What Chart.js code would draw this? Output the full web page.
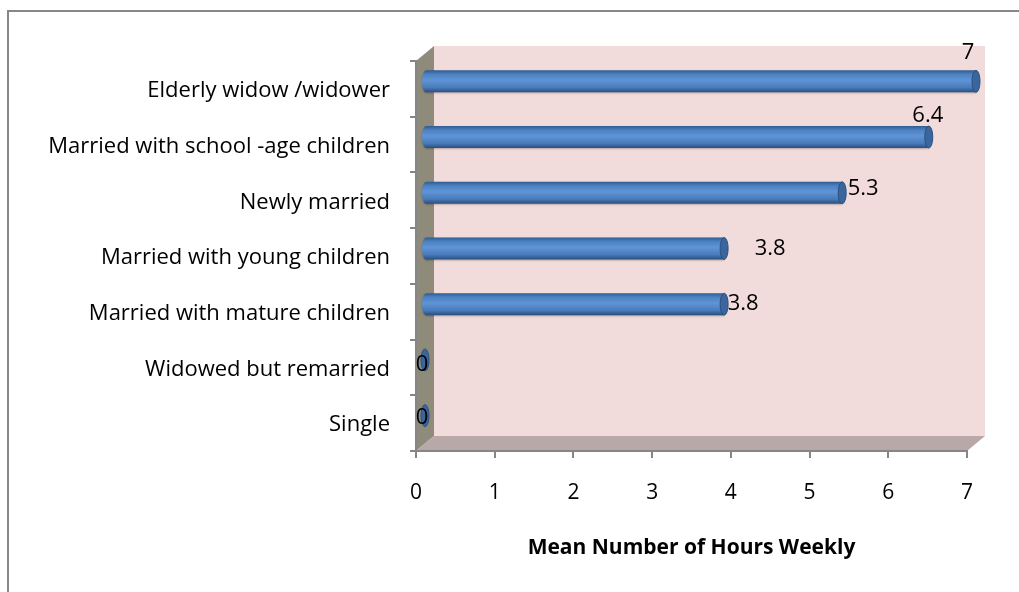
<!DOCTYPE html>
<html>
<head>
<meta charset="utf-8">
<script src="https://cdn.jsdelivr.net/npm/chart.js@4.4.1/dist/chart.umd.min.js"></script>
<style>
    html, body { margin: 0; padding: 0; background: #fff; }
    #wrap { position: relative; width: 1019px; height: 592px; overflow: hidden; }
    #frame { position: absolute; left: 7px; top: 10px; width: 1100px; height: 700px;
             border-top: 2px solid #878787; border-left: 2px solid #878787; }
    canvas { position: absolute; left: 0; top: 0; }
</style>
</head>
<body>
<div id="wrap">
    <div id="frame"></div>
    <canvas id="hoursChart" width="1019" height="592"></canvas>
</div>
<script>
// Data (top to bottom)
const categories = [
    'Elderly widow /widower',
    'Married with school -age children',
    'Newly married',
    'Married with young children',
    'Married with mature children',
    'Widowed but remarried',
    'Single'
];
const hours = [7, 6.4, 5.3, 3.8, 3.8, 0, 0];
const xTicks = [0, 1, 2, 3, 4, 5, 6, 7];
const axisTitle = 'Mean Number of Hours Weekly';

// Look
const fontFamily = '"Open Sans", Lato, sans-serif';
const depth = { dx: 18, dy: 15 };
const labelShift = [[-8, -29], [-1, -21], [21, -4], [46, 0], [19, 0], [-3, 5], [-3, 2]];

// 3D walls behind the bars
const wallsPlugin = {
    id: 'walls',
    beforeDraw(chart) {
        const { ctx, chartArea: a } = chart;
        ctx.save();
        ctx.fillStyle = '#f2dcdb';
        ctx.fillRect(a.left + depth.dx, a.top - depth.dy, a.right - a.left, a.bottom - a.top);

        ctx.fillStyle = '#8f8b7b';
        ctx.beginPath();
        ctx.moveTo(a.left, a.bottom);
        ctx.lineTo(a.left, a.top);
        ctx.lineTo(a.left + depth.dx, a.top - depth.dy);
        ctx.lineTo(a.left + depth.dx, a.bottom - depth.dy);
        ctx.closePath();
        ctx.fill();

        ctx.fillStyle = '#b9a8a8';
        ctx.beginPath();
        ctx.moveTo(a.left, a.bottom);
        ctx.lineTo(a.right, a.bottom);
        ctx.lineTo(a.right + depth.dx, a.bottom - depth.dy);
        ctx.lineTo(a.left + depth.dx, a.bottom - depth.dy);
        ctx.closePath();
        ctx.fill();
        ctx.restore();
    }
};

// Cylinders and value labels, drawn from the bar elements
const cylinderPlugin = {
    id: 'cylinders',
    afterDatasetsDraw(chart) {
        const ctx = chart.ctx;
        const meta = chart.getDatasetMeta(0);
        const ox = depth.dx / 2, oy = -depth.dy / 2;
        meta.data.forEach((bar, i) => {
            const h = bar.height;
            const cy = bar.y + oy;
            const x0 = bar.base + ox;
            const x1 = bar.x + ox;
            const top = cy - h / 2;
            const rx = 4;

            ctx.save();
            if (x1 - x0 > 0.5) {
                const g = ctx.createLinearGradient(0, top, 0, top + h);
                g.addColorStop(0, '#2f5c92');
                g.addColorStop(0.18, '#4c81c2');
                g.addColorStop(0.45, '#5f94d6');
                g.addColorStop(0.78, '#4a7bbb');
                g.addColorStop(1, '#284e7e');
                ctx.shadowColor = 'rgba(0,0,0,0.25)';
                ctx.shadowBlur = 2;
                ctx.shadowOffsetY = 1;
                ctx.beginPath();
                ctx.ellipse(x0, cy, rx, h / 2, 0, Math.PI / 2, Math.PI * 1.5);
                ctx.lineTo(x1, top);
                ctx.lineTo(x1, top + h);
                ctx.closePath();
                ctx.fillStyle = g;
                ctx.fill();
                ctx.shadowColor = 'transparent';
            }
            ctx.beginPath();
            ctx.ellipse(x1, cy, rx, h / 2, 0, 0, Math.PI * 2);
            ctx.fillStyle = '#3a669d';
            ctx.fill();
            ctx.strokeStyle = '#2b5080';
            ctx.lineWidth = 1;
            ctx.stroke();

            ctx.font = '22px ' + fontFamily;
            ctx.fillStyle = '#000';
            ctx.textAlign = 'center';
            ctx.textBaseline = 'middle';
            ctx.fillText(String(hours[i]), x1 + labelShift[i][0], cy + labelShift[i][1]);
            ctx.restore();
        });
    }
};

function initChart() {
    const ctx = document.getElementById('hoursChart');
    return new Chart(ctx, {
        type: 'bar',
        data: {
            labels: categories,
            datasets: [{
                data: hours,
                backgroundColor: 'transparent',
                barThickness: 22
            }]
        },
        options: {
            indexAxis: 'y',
            responsive: false,
            animation: false,
            layout: { padding: { top: 61, right: 52, left: 0, bottom: 0 } },
            plugins: {
                legend: { display: false },
                tooltip: { enabled: false }
            },
            scales: {
                x: {
                    min: 0,
                    max: 7,
                    afterBuildTicks: s => { s.ticks = xTicks.map(v => ({ value: v })); },
                    afterFit: s => { s.height = 141; },
                    grid: { drawOnChartArea: false, tickLength: 7, color: '#868686', lineWidth: 2 },
                    border: { color: '#868686', width: 2 },
                    ticks: { padding: 22, color: '#000', font: { family: fontFamily, size: 21 } },
                    title: {
                        display: true,
                        text: axisTitle,
                        color: '#000',
                        font: { family: fontFamily, size: 21, weight: 'bold' },
                        padding: { top: 0, bottom: 31 }
                    }
                },
                y: {
                    afterFit: s => { s.width = 416; },
                    grid: { drawOnChartArea: false, tickLength: 6, color: '#868686', lineWidth: 2, offset: true },
                    border: { color: '#868686', width: 2 },
                    ticks: { padding: 20, labelOffset: 2, color: '#000', font: { family: fontFamily, size: 22 } }
                }
            }
        },
        plugins: [wallsPlugin, cylinderPlugin]
    });
}

initChart();
</script>
</body>
</html>
